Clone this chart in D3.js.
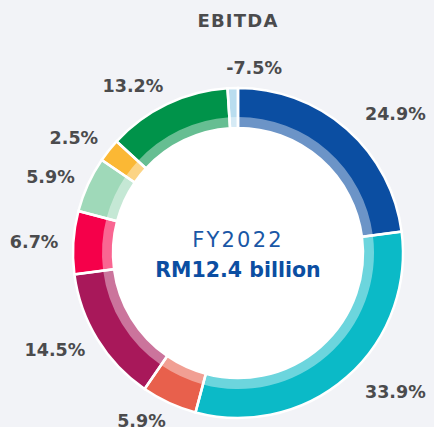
<!DOCTYPE html>
<html>
<head>
<meta charset="utf-8">
<script src="https://cdn.jsdelivr.net/npm/d3@7/dist/d3.min.js"></script>
<style>
  html, body { margin: 0; padding: 0; background: #f2f3f7; }
  svg { display: block; }
</style>
</head>
<body>
<svg id="chart" width="434" height="427"></svg>
<script>
// EBITDA contribution by segment, FY2022 (clockwise from 12 o'clock)
const segments = ["Segment A", "Segment B", "Segment C", "Segment D", "Segment E",
                  "Segment F", "Segment G", "Segment H", "Segment I"];
const shares = [24.9, 33.9, 5.9, 14.5, 6.7, 5.9, 2.5, 13.2, -7.5];
const colors = ["#0b4ea2", "#0bbac7", "#e8604c", "#a8185a", "#f5004a",
                "#9fd9b9", "#fbb834", "#00934a", "#b9ddef"];
const title = "EBITDA";
const centerTop = "FY2022";
const centerBottom = "RM12.4 billion";

// negative contributions are shown as a thin marker slice
const negativeStub = 1.1;

const svg = d3.select("#chart");
const cx = 238, cy = 253;
const rOuter = 165, rBand = 136, rInner = 125, rLabel = 185;

const data = segments.map((s, i) => ({ name: s, value: shares[i], color: colors[i] }));

const pie = d3.pie()
  .sort(null)
  .value(d => d.value < 0 ? negativeStub : d.value)
  .startAngle(0)
  .endAngle(2 * Math.PI);

const arcs = pie(data);
const ringArc = d3.arc().innerRadius(rInner).outerRadius(rOuter);
const bandArc = d3.arc().innerRadius(rInner).outerRadius(rBand);

const g = svg.append("g").attr("transform", `translate(${cx},${cy})`);

// white centre disc
g.append("circle").attr("r", rInner).attr("fill", "#ffffff");

// ring slices
g.selectAll("path.slice")
  .data(arcs)
  .join("path")
  .attr("class", "slice")
  .attr("d", ringArc)
  .attr("fill", d => d.data.color);

// lighter inner band
g.selectAll("path.band")
  .data(arcs)
  .join("path")
  .attr("class", "band")
  .attr("d", bandArc)
  .attr("fill", "#ffffff")
  .attr("fill-opacity", 0.4);

// white separators
g.selectAll("path.sep")
  .data(arcs)
  .join("path")
  .attr("class", "sep")
  .attr("d", ringArc)
  .attr("fill", "none")
  .attr("stroke", "#ffffff")
  .attr("stroke-width", 2.5)
  .attr("stroke-linejoin", "miter");

// percentage labels, placed outside the ring on each slice's mid-angle
const fmt = v => (v < 0 ? "-" : "") + Math.abs(v).toFixed(1) + "%";
g.selectAll("text.pct")
  .data(arcs)
  .join("text")
  .attr("class", "pct")
  .each(function (d) {
    const a = (d.startAngle + d.endAngle) / 2;
    const s = Math.sin(a);
    const nearTop = Math.abs(s) < 0.15 && Math.cos(a) > 0;
    const x = rLabel * s + (nearTop ? -6 : 5);
    const y = -rLabel * Math.cos(a);
    d3.select(this)
      .attr("x", x)
      .attr("y", y)
      .attr("dy", "0.36em")
      .attr("text-anchor", nearTop || s > 0 ? "start" : "end");
  })
  .attr("font-family", "'DejaVu Sans', sans-serif")
  .attr("font-weight", "bold")
  .attr("font-size", "17.5px")
  .attr("fill", "#4b4b4d")
  .text(d => fmt(d.data.value));

// title
svg.append("text")
  .attr("x", cx)
  .attr("y", 26.5)
  .attr("text-anchor", "middle")
  .attr("font-family", "'DejaVu Sans', sans-serif")
  .attr("font-weight", "bold")
  .attr("font-size", "18px")
  .attr("letter-spacing", "1.2px")
  .attr("fill", "#4b4b4d")
  .text(title);

// centre caption
g.append("text")
  .attr("x", 0)
  .attr("y", -6.3)
  .attr("text-anchor", "middle")
  .attr("font-family", "'DejaVu Sans', sans-serif")
  .attr("font-weight", "normal")
  .attr("font-size", "21px")
  .attr("letter-spacing", "2.2px")
  .attr("fill", "#1a57a6")
  .text(centerTop);

g.append("text")
  .attr("x", 0)
  .attr("y", 24)
  .attr("text-anchor", "middle")
  .attr("font-family", "'DejaVu Sans', sans-serif")
  .attr("font-weight", "bold")
  .attr("font-size", "20.5px")
  .attr("fill", "#0b4ea2")
  .text(centerBottom);
</script>
</body>
</html>
